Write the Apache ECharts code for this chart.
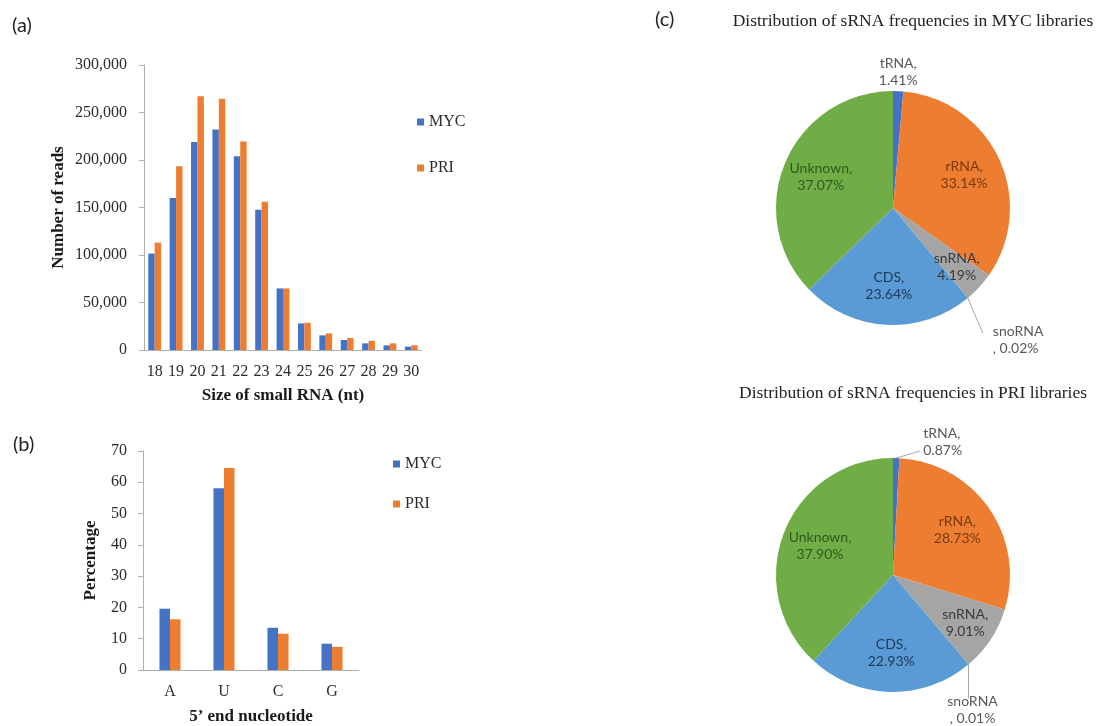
<!DOCTYPE html>
<html><head><meta charset="utf-8">
<script src="https://cdn.jsdelivr.net/npm/echarts@6/dist/echarts.min.js"></script>
<style>html,body{margin:0;padding:0;background:#fff}#c{width:1114px;height:726px}</style>
</head><body><div id="c"></div>
<script>
// ---- data ----
const sizeCategories = ['18','19','20','21','22','23','24','25','26','27','28','29','30'];
const sizeMYC = [101500,160000,219000,232000,204000,147700,64800,28000,15400,10500,7000,4900,3500];
const sizePRI = [113000,193500,267000,264600,219500,156000,64800,28700,17500,12600,9800,7000,4900];
const nucleotideCategories = ['A','U','C','G'];
const nucMYC = [19.6,58.1,13.5,8.4];
const nucPRI = [16.2,64.6,11.6,7.4];
const pieCategories = ['tRNA','rRNA','snRNA','snoRNA','CDS','Unknown'];
const pieMYC = [1.41,33.14,4.19,0.02,23.64,37.07];
const piePRI = [0.87,28.73,9.01,0.01,22.93,37.90];
const seriesNames = ['MYC','PRI'];

// ---- styles ----
const serif = '"Liberation Serif", "Times New Roman", serif';
const sans = 'Lato, "Noto Sans", sans-serif';
const barColors = ['#4472C4','#ED7D31'];
const sliceColors = ['#4472C4','#ED7D31','#A5A5A5','#FFC000','#5B9BD5','#70AD47'];
const sliceLabelColors = ['#595959','#7a3a10','#3a3a3a','#595959','#1f3a60','#2f5a1a'];

const chart = echarts.init(document.getElementById('c'));

function pieLabelLayout(values, center, R, outside, insideR) {
  const total = values.reduce((a,b)=>a+b,0);
  const mids = []; let acc = 0;
  values.forEach(v => { mids.push((acc + v/2)/total); acc += v; });
  return function(p) {
    const a = mids[p.dataIndex]*2*Math.PI;
    const sx = Math.sin(a), sy = -Math.cos(a);
    const name = pieCategories[p.dataIndex];
    const o = outside[name];
    if (!o) {
      const f = insideR[name] || 0.67;
      return {x: center[0]+sx*R*f, y: center[1]+sy*R*f, align:'center', verticalAlign:'middle'};
    }
    const ex = center[0]+sx*R, ey = center[1]+sy*R;
    const res = {x: ex+o.text[0], y: ey+o.text[1], align:o.align, verticalAlign:'middle'};
    if (o.line) {
      const lx = ex+o.line[0], ly = ey+o.line[1];
      res.labelLinePoints = [[ex,ey],[lx,ly],[lx,ly]];
    }
    return res;
  };
}

function pieSeries(values, center, outside, showLines) {
  const R = 117;
  return {
    type:'pie', center: center, radius: R, startAngle: 90, clockwise: true,
    avoidLabelOverlap: false, silent: true,
    label: {
      position:'inside', fontFamily: sans, fontSize: 14, lineHeight: 17,
      formatter: p => p.name === 'snoRNA' ? p.name + '\n, ' + p.value.toFixed(2) + '%' : p.name + ',\n' + p.value.toFixed(2) + '%'
    },
    labelLayout: pieLabelLayout(values, center, R, outside, {snRNA: 0.74}),
    data: pieCategories.map((n,i) => {
      const item = {name:n, value: values[i], itemStyle:{color: sliceColors[i]}, label:{color: sliceLabelColors[i]}};
      if (outside[n]) {
        item.label.position = 'outside';
        item.labelLine = {show: showLines[n], length: 10, length2: 5, smooth: false, lineStyle:{color:'#a6a6a6', width:1}};
      }
      return item;
    })
  };
}

const axisLabelStyle = {fontFamily: serif, fontSize: 16, color:'#2b2b2b'};
const axisNameStyle = {fontFamily: serif, fontSize: 17, fontWeight:'bold', color:'#1a1a1a'};
const axisLineStyle = {show:true, lineStyle:{color:'#b0b0b0', width:1}};

const option = {
  animation: false,
  textStyle: {fontFamily: serif},
  grid: [
    {left:144, top:65, right:692, bottom:376, containLabel:false},
    {left:143, top:451, right:755, bottom:56, containLabel:false}
  ],
  legend: [
    {data: seriesNames, orient:'vertical', left:412, top:109, itemWidth:7, itemHeight:7, itemGap:30, icon:'rect', selectedMode:false,
     textStyle:{fontFamily: serif, fontSize:16, color:'#2b2b2b', lineHeight:16}},
    {data: seriesNames, orient:'vertical', left:388, top:451, itemWidth:7, itemHeight:7, itemGap:24, icon:'rect', selectedMode:false,
     textStyle:{fontFamily: serif, fontSize:16, color:'#2b2b2b', lineHeight:16}}
  ],
  xAxis: [
    {type:'category', gridIndex:0, data:sizeCategories, axisLine:axisLineStyle, axisTick:{show:false},
     axisLabel:Object.assign({margin:14, interval:0}, axisLabelStyle),
     name:'Size of small RNA (nt)', nameLocation:'middle', nameGap:37, nameTextStyle:axisNameStyle},
    {type:'category', gridIndex:1, data:nucleotideCategories, axisLine:axisLineStyle, axisTick:{show:false},
     axisLabel:Object.assign({margin:14}, axisLabelStyle),
     name:'5\u2019 end nucleotide', nameLocation:'middle', nameGap:38, nameTextStyle:axisNameStyle}
  ],
  yAxis: [
    {type:'value', gridIndex:0, min:0, max:300000, interval:50000, axisLine:axisLineStyle,
     axisTick:{show:true, length:5, lineStyle:{color:'#b0b0b0'}}, splitLine:{show:false},
     axisLabel:Object.assign({margin:17, formatter: v => v.toLocaleString('en-US')}, axisLabelStyle),
     name:'Number of reads', nameLocation:'middle', nameGap:77, nameTextStyle:axisNameStyle},
    {type:'value', gridIndex:1, min:0, max:70, interval:10, axisLine:axisLineStyle,
     axisTick:{show:true, length:5, lineStyle:{color:'#b0b0b0'}}, splitLine:{show:false},
     axisLabel:Object.assign({margin:16}, axisLabelStyle),
     name:'Percentage', nameLocation:'middle', nameGap:44, nameTextStyle:axisNameStyle}
  ],
  graphic: [
    {type:'text', x:12, y:26, style:{text:'(a)', font:'20px ' + sans, fill:'#222', textVerticalAlign:'middle'}},
    {type:'text', x:13, y:445, style:{text:'(b)', font:'20px ' + sans, fill:'#222', textVerticalAlign:'middle'}},
    {type:'text', x:655, y:20, style:{text:'(c)', font:'20px ' + sans, fill:'#222', textVerticalAlign:'middle'}},
    {type:'text', x:913, y:21, style:{text:'Distribution of sRNA frequencies in MYC libraries', font:'17.5px ' + serif, fill:'#222', textAlign:'center', textVerticalAlign:'middle'}},
    {type:'text', x:913, y:393, style:{text:'Distribution of sRNA frequencies in PRI libraries', font:'17.5px ' + serif, fill:'#222', textAlign:'center', textVerticalAlign:'middle'}}
  ],
  series: [
    {name:'MYC', type:'bar', xAxisIndex:0, yAxisIndex:0, data:sizeMYC, barGap:'0%', barCategoryGap:'40%', itemStyle:{color:barColors[0]}, silent:true},
    {name:'PRI', type:'bar', xAxisIndex:0, yAxisIndex:0, data:sizePRI, barGap:'0%', barCategoryGap:'40%', itemStyle:{color:barColors[1]}, silent:true},
    {name:'MYC', type:'bar', xAxisIndex:1, yAxisIndex:1, data:nucMYC, barGap:'0%', barCategoryGap:'61%', itemStyle:{color:barColors[0]}, silent:true},
    {name:'PRI', type:'bar', xAxisIndex:1, yAxisIndex:1, data:nucPRI, barGap:'0%', barCategoryGap:'61%', itemStyle:{color:barColors[1]}, silent:true},
    pieSeries(pieMYC, [893,208], {
      tRNA:{text:[0,-19], align:'center'},
      snoRNA:{text:[25,42], line:[15,35], align:'left'}
    }, {tRNA:false, snoRNA:true}),
    pieSeries(piePRI, [893,575], {
      tRNA:{text:[27,-16], line:[24,-7], align:'left'},
      snoRNA:{text:[4,46], line:[0,34], align:'center'}
    }, {tRNA:true, snoRNA:true})
  ]
};
chart.setOption(option);
</script>
</body></html>
